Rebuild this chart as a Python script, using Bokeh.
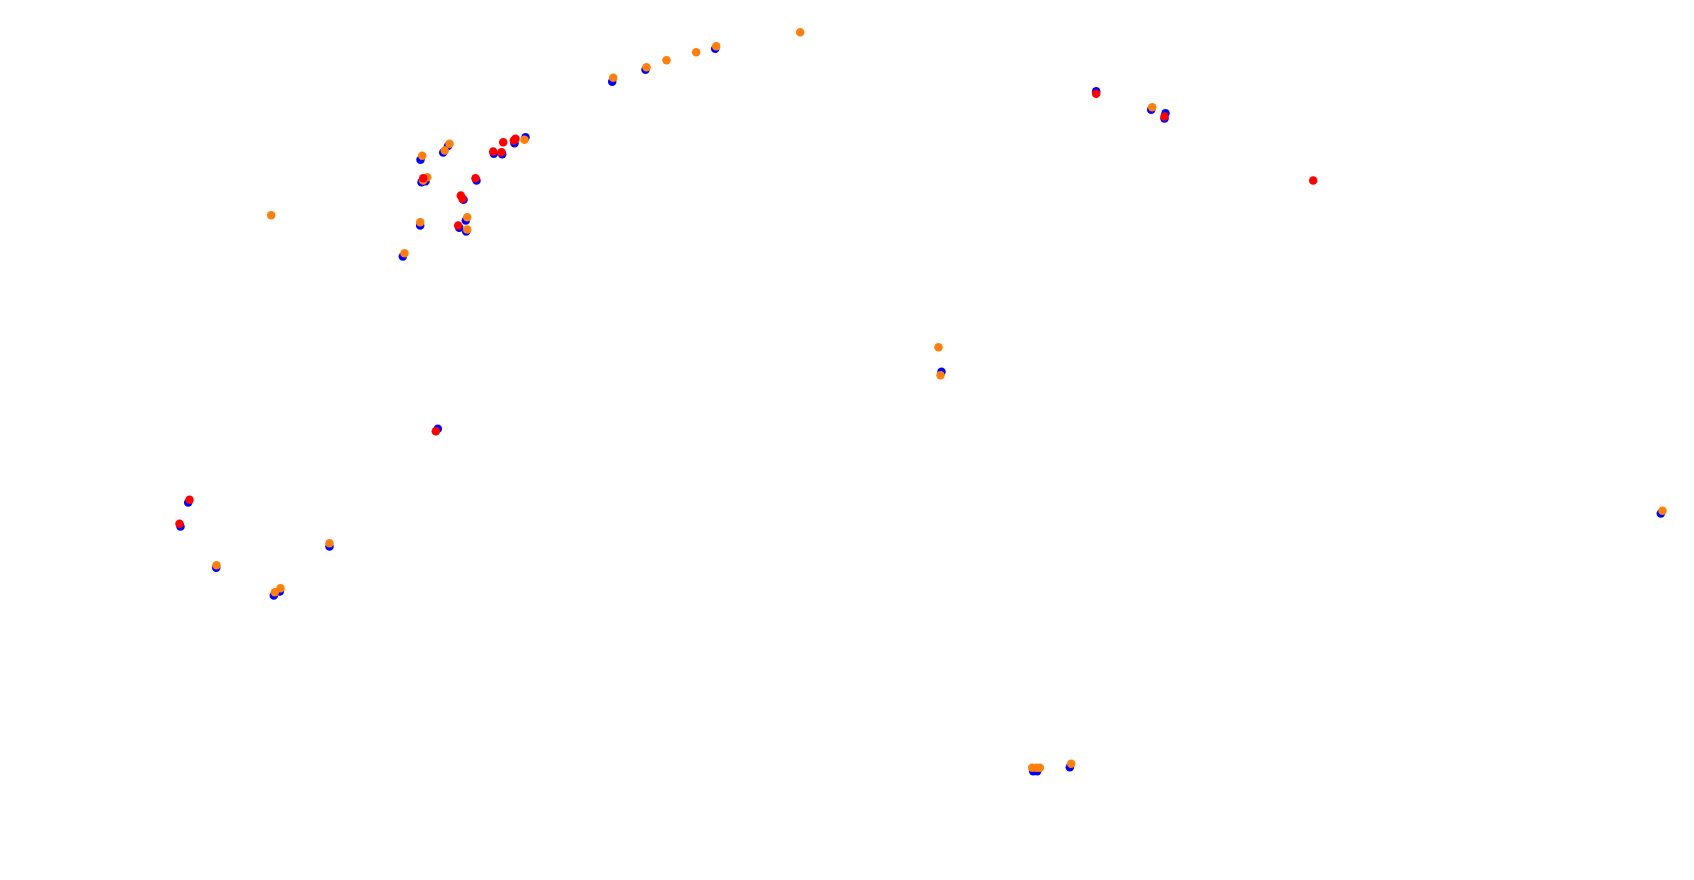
from bokeh.plotting import figure
from bokeh.models import Range1d
from bokeh.embed import file_html
from bokeh.resources import INLINE

blue_x = [714.7, 645, 611.7, 420, 442.7, 447.5, 421, 425, 493.3, 501.7, 514, 525, 476, 463,
          465.3, 458.7, 465.7, 419.7, 402.3, 437.3, 187.7, 180, 215.7, 329, 273.3, 279.3,
          1095.7, 1150.7, 1165, 1164, 1032.7, 1036.7, 1069.3, 941, 1660.3]
blue_y = [48.3, 69.3, 81.3, 159.3, 152, 145.5, 181.7, 180.7, 153.3, 153.7, 142.7, 136.7, 180, 199.3,
          220, 227.3, 231, 225, 256, 428.3, 502, 526, 567.3, 546, 595, 591,
          90.7, 109.3, 112.7, 118, 770.7, 770.7, 766.7, 371.3, 513]

red_x = [422.7, 492.7, 501, 502.7, 513.3, 515, 475, 460.3, 462, 457.7, 435.3, 1312.7, 189, 179,
         1095.7, 1164]
red_y = [177.7, 151, 151.7, 141.7, 140, 138.3, 177.7, 195, 198.3, 225, 430.7, 180, 499.3, 523.3,
         93.3, 116]

orange_x = [799.7, 715.7, 695.7, 666, 646, 612.7, 421.7, 444.3, 449, 426.7, 422.7, 524, 466.7,
            466.7, 419.7, 404, 270.7, 216, 329, 274.3, 280, 1151.7, 1031.7, 1036, 1039.3, 1070.7,
            938, 940, 1662]
orange_y = [31.7, 45.7, 51.7, 59.7, 66.7, 77.3, 155.3, 150, 143.3, 176.7, 180, 139.3, 216.7,
            229, 221.7, 252.7, 214.7, 564.7, 542.7, 591.7, 587.7, 106.7, 767.3, 767.3, 767.3, 763.3,
            346.7, 374.7, 510.3]

p = figure(width=1678, height=864, output_backend="svg", toolbar_location=None,
           x_range=Range1d(0, 1678), y_range=Range1d(864, 0), min_border=0)
p.axis.visible = False
p.grid.visible = False
p.outline_line_color = None
p.background_fill_color = "white"
p.border_fill_color = "white"

p.scatter(blue_x, blue_y, size=8.5, fill_color="#0000ff", line_color="#0000ff", line_width=0)
p.scatter(orange_x, orange_y, size=8.5, fill_color="#ff7f0e", line_color="#ff7f0e", line_width=0)
p.scatter(red_x, red_y, size=8.5, fill_color="#ff0000", line_color="#ff0000", line_width=0)

open("out.html", "w").write(file_html(p, INLINE))
